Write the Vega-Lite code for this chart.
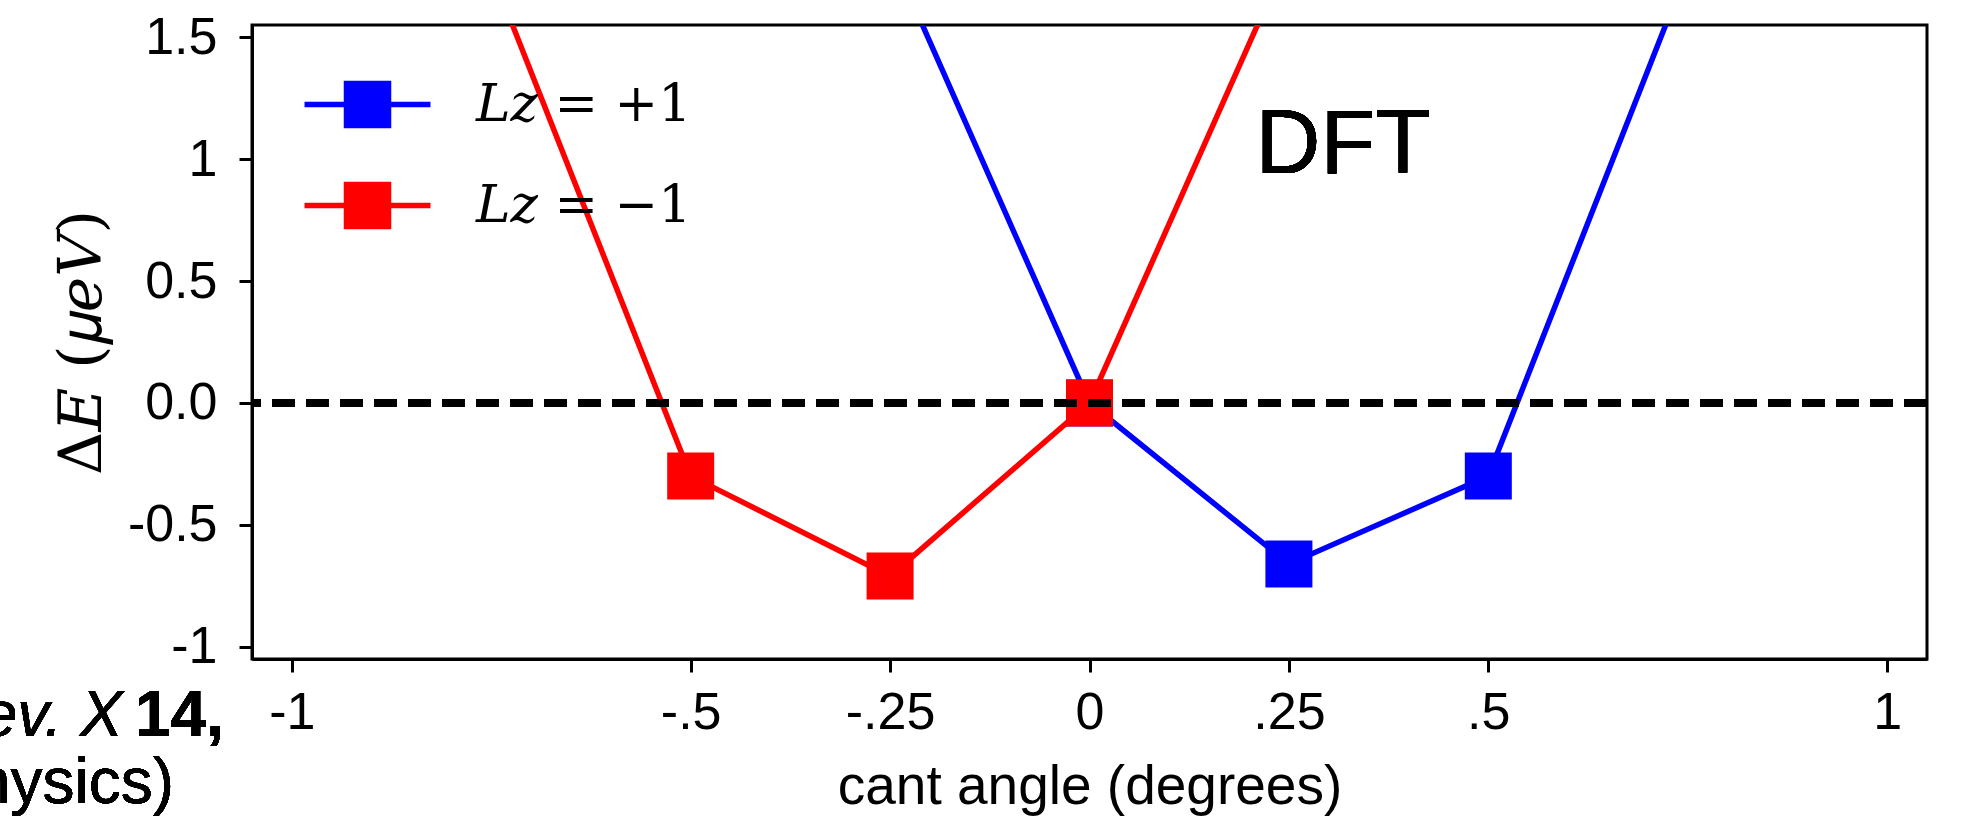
{
  "$schema": "https://vega.github.io/schema/vega-lite/v6.json",
  "autosize": {"type": "none"},
  "width": 1675,
  "height": 634,
  "padding": {"left": 252, "top": 25, "right": 41, "bottom": 157},
  "background": "white",
  "config": {
    "view": {"stroke": "black", "strokeWidth": 3},
    "axis": {"grid": false, "domainColor": "black", "domainWidth": 3, "tickColor": "black", "tickWidth": 3, "tickSize": 13, "labelColor": "black", "titleColor": "black", "labelFont": "Liberation Sans", "labelFontSize": 52, "titleFontWeight": "normal"}
  },
  "data": {"values": [
    {"angle": -0.25, "dE": 1.85, "series": "𝐿𝑧 = +1"},
    {"angle": 0, "dE": 0, "series": "𝐿𝑧 = +1"},
    {"angle": 0.25, "dE": -0.66, "series": "𝐿𝑧 = +1"},
    {"angle": 0.5, "dE": -0.30, "series": "𝐿𝑧 = +1"},
    {"angle": 0.75, "dE": 1.78, "series": "𝐿𝑧 = +1"},
    {"angle": -0.75, "dE": 1.77, "series": "𝐿𝑧 = −1"},
    {"angle": -0.5, "dE": -0.30, "series": "𝐿𝑧 = −1"},
    {"angle": -0.25, "dE": -0.71, "series": "𝐿𝑧 = −1"},
    {"angle": 0, "dE": 0, "series": "𝐿𝑧 = −1"},
    {"angle": 0.25, "dE": 1.84, "series": "𝐿𝑧 = −1"}
  ]},
  "layer": [
    {
      "encoding": {
        "x": {"field": "angle", "type": "quantitative",
          "scale": {"domain": [-1.05, 1.05], "nice": false, "zero": false},
          "axis": {"values": [-1, -0.5, -0.25, 0, 0.25, 0.5, 1],
            "labelExpr": "datum.value == -1 ? '-1' : datum.value == -0.5 ? '-.5' : datum.value == -0.25 ? '-.25' : datum.value == 0 ? '0' : datum.value == 0.25 ? '.25' : datum.value == 0.5 ? '.5' : '1'",
            "labelPadding": 15, "labelFlush": false,
            "title": "cant angle (degrees)", "titleFont": "Liberation Sans", "titleFontSize": 55, "titlePadding": 22}},
        "y": {"field": "dE", "type": "quantitative",
          "scale": {"domain": [-1.05, 1.55], "nice": false, "zero": false},
          "axis": {"values": [-1, -0.5, 0, 0.5, 1, 1.5],
            "labelExpr": "datum.value == 1.5 ? '1.5' : datum.value == 1 ? '1' : datum.value == 0.5 ? '0.5' : datum.value == 0 ? '0.0' : datum.value == -0.5 ? '-0.5' : '-1'",
            "labelPadding": 22, "labelFlush": false,
            "title": "Δ𝐸 (𝜇𝑒𝑉)", "titleFont": "DejaVu Serif", "titleFontSize": 60, "titlePadding": 14}},
        "color": {"field": "series", "type": "nominal",
          "scale": {"domain": ["𝐿𝑧 = +1", "𝐿𝑧 = −1"], "range": ["#0000ff", "#ff0000"]},
          "legend": {"title": null, "orient": "none", "legendX": 89, "legendY": 53, "padding": 0,
            "symbolType": "M-2.68,0H2.68M-0.894,-0.894H0.894V0.894H-0.894Z",
            "symbolSize": 2209, "symbolStrokeWidth": 5, "symbolOpacity": 1,
            "labelFont": "DejaVu Serif", "labelFontSize": 52, "labelColor": "black", "labelOffset": 82, "labelLimit": 0, "rowPadding": 36,
            "encode": {"symbols": {"update": {"fill": {"scale": "color", "field": "value"}, "stroke": {"scale": "color", "field": "value"}, "strokeWidth": {"value": 5.5}, "opacity": {"value": 1}}}}}}
      },
      "layer": [
        {"mark": {"type": "line", "strokeWidth": 5.5, "clip": true}},
        {"mark": {"type": "point", "shape": "square", "filled": true, "size": 2209, "opacity": 1, "clip": true}}
      ]
    },
    {
      "mark": {"type": "rule", "color": "black", "strokeWidth": 7, "strokeDash": [23, 11]},
      "encoding": {"y": {"datum": 0}}
    },
    {
      "mark": {"type": "text", "text": "DFT", "font": "Liberation Sans", "fontSize": 90, "align": "left", "baseline": "alphabetic", "color": "black"},
      "encoding": {"x": {"datum": 0.208}, "y": {"datum": 0.943}}
    },
    {
      "mark": {"type": "text", "text": "14,", "font": "Liberation Sans", "fontWeight": "bold", "fontSize": 64, "align": "right", "baseline": "alphabetic", "color": "black", "clip": false},
      "encoding": {"x": {"datum": -1.085}, "y": {"datum": -1.366}}
    },
    {
      "mark": {"type": "text", "text": "Phys. Rev. X", "font": "Liberation Sans", "fontStyle": "italic", "fontSize": 64, "align": "right", "baseline": "alphabetic", "color": "black", "clip": false},
      "encoding": {"x": {"datum": -1.212}, "y": {"datum": -1.366}}
    },
    {
      "mark": {"type": "text", "text": "Physics)", "font": "Liberation Sans", "fontSize": 64, "align": "right", "baseline": "alphabetic", "color": "black", "clip": false},
      "encoding": {"x": {"datum": -1.1477}, "y": {"datum": -1.6395}}
    }
  ]
}
